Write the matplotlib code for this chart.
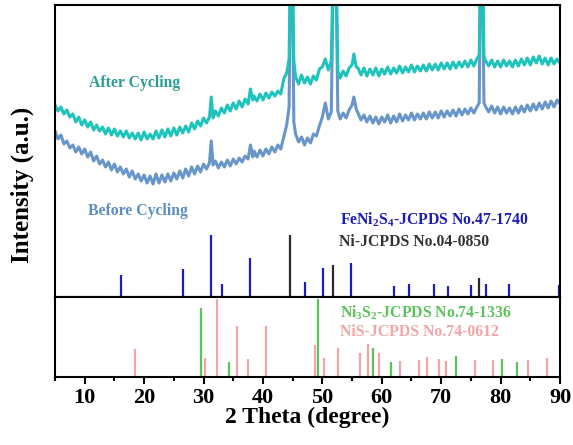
import numpy as np
import matplotlib
matplotlib.use('Agg')
import matplotlib.pyplot as plt

plt.rcParams['font.family'] = ['Liberation Serif', 'DejaVu Serif']
plt.rcParams['font.weight'] = 'bold'
plt.rcParams['mathtext.fontset'] = 'custom'
plt.rcParams['mathtext.rm'] = 'Liberation Serif:bold'
plt.rcParams['mathtext.bf'] = 'Liberation Serif:bold'
plt.rcParams['mathtext.default'] = 'rm'

# XRD patterns (2 theta, intensity a.u.)
after_2t = [5.0, 5.5, 6.0, 6.5, 7.0, 7.5, 8.0, 8.5, 9.0, 9.5, 10.0, 10.5, 11.0, 11.5, 12.0, 12.5,
            13.0, 13.5, 14.0, 14.5, 15.0, 15.5, 16.0, 16.5, 17.0, 17.5, 18.0, 18.5, 19.0, 19.5,
            20.0, 20.5, 21.0, 21.5, 22.0, 22.5, 23.0, 23.5, 24.0, 24.5, 25.0, 25.5, 26.0, 26.5,
            27.0, 27.5, 28.0, 28.5, 29.0, 29.5, 30.0, 30.5, 31.0, 31.3, 31.6, 32.0, 32.5, 33.0,
            33.5, 34.0, 34.5, 35.0, 35.5, 36.0, 36.5, 37.0, 37.5, 37.9, 38.3, 38.5, 39.0, 39.5,
            40.0, 40.5, 41.0, 41.5, 42.0, 42.5, 43.0, 43.5, 44.0, 44.4, 44.8, 45.2, 45.5, 46.0,
            46.5, 47.0, 47.5, 48.0, 48.5, 49.0, 49.5, 50.0, 50.5, 51.0, 51.5, 52.1, 52.6, 53.0,
            53.5, 54.0, 54.5, 55.0, 55.3, 55.7, 56.0, 56.5, 57.0, 57.5, 58.0, 58.5, 59.0, 59.5,
            60.0, 60.5, 61.0, 61.5, 62.0, 62.5, 63.0, 63.5, 64.0, 64.5, 65.0, 65.5, 66.0, 66.5,
            67.0, 67.5, 68.0, 68.5, 69.0, 69.5, 70.0, 70.5, 71.0, 71.5, 72.0, 72.5, 73.0, 73.5,
            74.0, 74.5, 75.0, 75.5, 76.0, 76.4, 76.8, 77.2, 77.5, 78.0, 78.5, 79.0, 79.5, 80.0,
            80.5, 81.0, 81.5, 82.0, 82.5, 83.0, 83.5, 84.0, 84.5, 85.0, 85.5, 86.0, 86.5, 87.0,
            87.5, 88.0, 88.5, 89.0, 89.5, 90.0]
after_int = [192, 186, 190, 183, 187, 180, 183, 175, 180, 172, 177, 170, 175, 167, 172, 166,
             170, 163, 169, 162, 168, 161, 166, 160, 166, 159, 164, 158, 164, 157,
             165, 158, 163, 158, 166, 159, 167, 160, 168, 161, 169, 162, 170, 164,
             171, 165, 174, 168, 176, 171, 179, 174, 180, 200, 179, 186, 181, 189,
             184, 192, 186, 194, 188, 196, 190, 198, 193, 208, 197, 201, 196, 203,
             197, 204, 199, 205, 201, 206, 203, 218, 224, 238, 420, 236, 220, 213,
             222, 214, 220, 213, 221, 217, 228, 230, 238, 227, 236, 420, 226, 219,
             226, 221, 229, 232, 243, 230, 229, 222, 229, 221, 228, 222, 229, 221,
             228, 223, 230, 223, 229, 224, 231, 224, 230, 225, 232, 225, 231, 226,
             232, 226, 233, 227, 233, 227, 234, 228, 234, 228, 235, 229, 235, 230,
             236, 230, 237, 231, 238, 242, 420, 240, 236, 231, 237, 230, 236, 230,
             237, 231, 236, 230, 237, 231, 238, 232, 239, 232, 240, 234, 241, 233,
             239, 232, 239, 233, 238, 234]

before_2t = after_2t
before_int = [166, 158, 162, 153, 156, 149, 152, 145, 150, 143, 148, 140, 145, 136, 141, 133,
              137, 130, 135, 127, 133, 125, 130, 123, 128, 120, 126, 118, 123, 116,
              122, 114, 121, 113, 123, 114, 122, 115, 123, 116, 124, 118, 126, 119,
              128, 121, 130, 123, 131, 125, 133, 128, 134, 156, 132, 136, 129, 135,
              130, 137, 131, 138, 133, 139, 135, 141, 138, 152, 140, 146, 140, 147,
              141, 148, 143, 150, 145, 152, 148, 160, 172, 190, 420, 175, 163, 155,
              160, 152, 159, 154, 163, 161, 171, 180, 194, 178, 185, 420, 186, 178,
              184, 179, 187, 192, 200, 188, 184, 177, 182, 175, 181, 174, 180, 173,
              180, 175, 182, 174, 181, 175, 183, 176, 182, 177, 184, 177, 183, 178,
              184, 178, 185, 179, 185, 179, 186, 180, 186, 181, 187, 181, 188, 182,
              188, 183, 189, 184, 190, 194, 420, 194, 190, 185, 191, 184, 190, 183,
              190, 184, 189, 183, 190, 184, 191, 185, 192, 186, 193, 187, 194, 188,
              195, 189, 196, 190, 197, 193]

# standard cards (2 theta, relative intensity)
feni2s4_pos = [16.1, 26.6, 31.3, 33.1, 37.9, 47.0, 50.1, 54.9, 62.0, 64.6, 68.8, 71.2,
               75.1, 77.5, 81.4, 89.8]
feni2s4_int = [22, 28, 62, 13, 39, 15, 29, 34, 11, 13, 13, 11, 12, 13, 13, 12]
ni_pos = [44.5, 51.8, 76.4]
ni_int = [62, 32, 19]

ni3s2_pos = [29.6, 34.3, 49.3, 58.6, 61.6, 72.5, 80.2, 82.7]
ni3s2_int = [66, 14, 75, 28, 14, 20, 17, 14]
nis_pos = [18.4, 30.2, 32.2, 35.6, 37.5, 40.5, 48.8, 50.2, 52.7, 56.4, 57.6, 59.6,
           63.0, 66.3, 67.6, 69.6, 70.8, 75.7, 78.7, 84.6, 87.8]
nis_int = [27, 18, 75, 49, 17, 49, 31, 18, 28, 23, 32, 23, 15, 16, 19, 17, 15, 16, 16, 16, 18]

W, H = 573, 445
fig = plt.figure(figsize=(W / 100, H / 100), dpi=100)
left, right = 55 / W, 560 / W
ax1 = fig.add_axes([left, 1 - 297 / H, right - left, 292 / H])
ax2 = fig.add_axes([left, 1 - 377 / H, right - left, 80 / H])

ax1.plot(before_2t, before_int, color='#6895ca', lw=2.2)
ax1.plot(after_2t, after_int, color='#1ec4bc', lw=2.2)
ax1.vlines(feni2s4_pos, 0, feni2s4_int, color='#1c1cc4', lw=1.6)
ax1.vlines(ni_pos, 0, ni_int, color='#2a2a2a', lw=1.6)

ax2.vlines(ni3s2_pos, 0, ni3s2_int, color='#5cc25c', lw=1.6)
ax2.vlines(nis_pos, 0, nis_int, color='#f3a5a5', lw=1.6)

for ax in (ax1, ax2):
    ax.set_xlim(5, 90)
    ax.set_yticks([])
    for s in ax.spines.values():
        s.set_linewidth(1.5)
ax1.set_ylim(0, 292)
ax2.set_ylim(0, 77)
ax1.set_xticks([])

ax2.set_xticks(np.arange(10, 91, 10))
ax2.set_xticks(np.arange(5, 90, 10), minor=True)
ax2.tick_params(axis='x', which='major', direction='out', length=5, width=1.5,
                labelsize=16, pad=3)
ax2.tick_params(axis='x', which='minor', direction='out', length=3, width=1.5)
for lab in ax2.get_xticklabels():
    lab.set_fontweight('bold')
ax2.set_xlabel('2 Theta (degree)', fontsize=17, fontweight='bold', labelpad=-1)

fig.text(22 / W, 1 - 185 / H, 'Intensity (a.u.)', rotation=90, fontsize=18,
         fontweight='bold', ha='center', va='center')

fs = 11.3
ax1.text(0.068, 0.733, 'After Cycling', transform=ax1.transAxes, color='#2a9d96',
         fontsize=fs, fontweight='bold', va='center')
ax1.text(0.065, 0.296, 'Before Cycling', transform=ax1.transAxes, color='#5b8fc2',
         fontsize=fs, fontweight='bold', va='center')
ax1.text(0.565, 0.264, r'FeNi$_{2}$S$_{4}$-JCPDS No.47-1740', transform=ax1.transAxes,
         color='#1c1cb4', fontsize=fs, fontweight='bold', va='center')
ax1.text(0.562, 0.189, 'Ni-JCPDS No.04-0850', transform=ax1.transAxes, color='#333333',
         fontsize=fs, fontweight='bold', va='center')
ax2.text(0.565, 0.80, r'Ni$_{3}$S$_{2}$-JCPDS No.74-1336', transform=ax2.transAxes,
         color='#5cc25c', fontsize=fs, fontweight='bold', va='center')
ax2.text(0.565, 0.56, 'NiS-JCPDS No.74-0612', transform=ax2.transAxes, color='#f3a5a5',
         fontsize=fs, fontweight='bold', va='center')

fig.savefig('out.png', dpi=100)
